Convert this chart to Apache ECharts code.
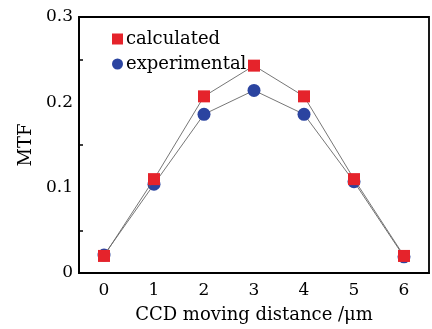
<!DOCTYPE html>
<html>
<head>
<meta charset="utf-8">
<script src="https://cdn.jsdelivr.net/npm/echarts@6/dist/echarts.min.js"></script>
<style>html,body{margin:0;padding:0;background:#fff}#c{width:432px;height:329px}</style>
</head>
<body>
<div id="c"></div>
<script>
var categories = ['0', '1', '2', '3', '4', '5', '6'];
var calculated = [0.020, 0.110, 0.207, 0.243, 0.207, 0.110, 0.020];
var experimental = [0.021, 0.104, 0.186, 0.214, 0.186, 0.107, 0.019];
var yTicks = { min: 0, max: 0.3, interval: 0.1 };
var xTitle = 'CCD moving distance /\u03bcm';
var yTitle = 'MTF';

var font = 'DejaVu Serif';
var chart = echarts.init(document.getElementById('c'), null, { renderer: 'canvas' });
chart.setOption({
  animation: false,
  backgroundColor: '#fff',
  grid: { left: 79, right: 3, top: 17, bottom: 50, show: true, borderColor: '#000', borderWidth: 1.8, backgroundColor: 'transparent' },
  legend: {
    orient: 'vertical', left: 112, top: 30, padding: 0, itemWidth: 11, itemHeight: 11, itemGap: 7,
    textStyle: { fontFamily: font, fontSize: 18, color: '#000', padding: [0, 0, 0, -2] },
    data: [{ name: 'calculated', icon: 'rect' }, { name: 'experimental', icon: 'circle' }]
  },
  xAxis: [{
    type: 'category', data: categories, boundaryGap: true, position: 'bottom',
    name: xTitle, nameLocation: 'middle', nameGap: 33,
    nameTextStyle: { fontFamily: font, fontSize: 18, color: '#000' },
    axisLine: { lineStyle: { color: '#000', width: 1.8 } },
    axisTick: { inside: true, alignWithLabel: true, length: 6, lineStyle: { color: '#000', width: 1.5 } },
    axisLabel: { fontFamily: font, fontSize: 17, color: '#000', margin: 9 },
    splitLine: { show: false }
  }, {
    type: 'category', data: categories, boundaryGap: true, position: 'bottom',
    axisLine: { show: false },
    axisTick: { inside: true, alignWithLabel: false, length: 3, lineStyle: { color: '#000', width: 1.5 } },
    axisLabel: { show: false }, splitLine: { show: false }
  }],
  yAxis: {
    type: 'value', min: yTicks.min, max: yTicks.max, interval: yTicks.interval,
    name: yTitle, nameLocation: 'middle', nameGap: 44,
    nameTextStyle: { fontFamily: font, fontSize: 18, color: '#000' },
    axisLine: { show: true, lineStyle: { color: '#000', width: 1.8 } },
    axisTick: { inside: true, length: 6, lineStyle: { color: '#000', width: 1.5 } },
    minorTick: { show: true, splitNumber: 2, length: 4, lineStyle: { color: '#000', width: 1.5 } },
    axisLabel: { fontFamily: font, fontSize: 17, color: '#000', margin: 6, padding: [7, 0, 0, 0] },
    splitLine: { show: false }
  },
  series: [{
    name: 'experimental', type: 'line', data: experimental, xAxisIndex: 0,
    symbol: 'circle', symbolSize: 13, z: 2,
    itemStyle: { color: '#2b44a0' },
    lineStyle: { color: '#666', width: 0.9 }
  }, {
    name: 'calculated', type: 'line', data: calculated, xAxisIndex: 0,
    symbol: 'rect', symbolSize: 12, z: 3,
    itemStyle: { color: '#e5232b' },
    lineStyle: { color: '#666', width: 0.9 }
  }]
});
</script>
</body>
</html>
